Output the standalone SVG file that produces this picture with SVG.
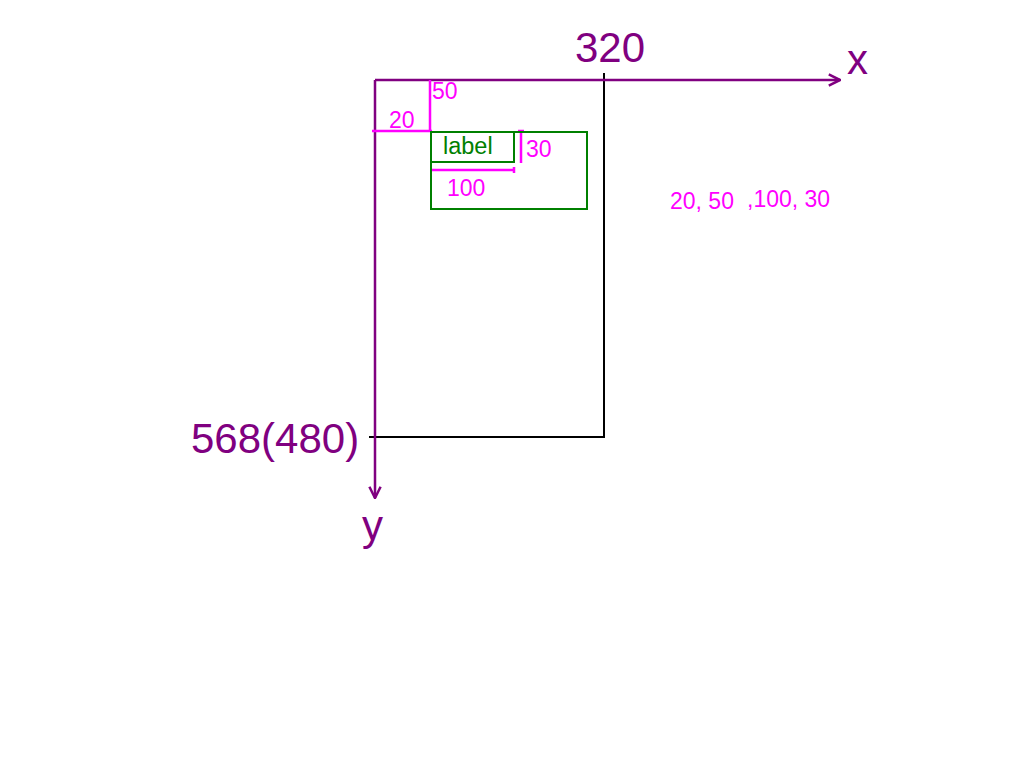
<svg xmlns="http://www.w3.org/2000/svg" width="1024" height="768" viewBox="0 0 1024 768">
<defs>
<style>
.ax{stroke:#800080;stroke-width:2.5;fill:none}
.mg{stroke:#ff00ff;stroke-width:2.5;fill:none}
.gr{stroke:#008000;stroke-width:2;fill:none}
.bk{stroke:#000;stroke-width:2;fill:none}
.big{font-family:"Liberation Sans",Arial,sans-serif;font-size:42px;fill:#800080}
.sm{font-family:"Liberation Sans",Arial,sans-serif;font-size:23px;fill:#ff00ff}
.lb{font-family:"Liberation Sans",Arial,sans-serif;font-size:23.5px;fill:#008000}
</style>
<marker id="arr" viewBox="0 0 10 10" refX="9" refY="5" markerWidth="14" markerHeight="14" markerUnits="userSpaceOnUse" orient="auto">
<path d="M1,1 L9,5 L1,9" fill="none" stroke="#800080" stroke-width="1.8"/>
</marker>
</defs>
<rect width="1024" height="768" fill="#fff"/>
<g id="screen">
<path class="bk" d="M604,73 V437 H369"/>
</g>
<g id="connectors">
<line class="ax" x1="375" y1="80" x2="840" y2="80" marker-end="url(#arr)"/>
<line class="ax" x1="375" y1="80" x2="375" y2="498" marker-end="url(#arr)"/>
<path class="mg" d="M430,80 V131 M372,131 H432"/>
<path class="mg" stroke-width="3" d="M521,131 V163 M518,131 H524"/>
<path class="mg" d="M432,170 H514 M514,167 V173"/>
</g>
<g id="outer-rect"><rect class="gr" x="431" y="132" width="156" height="77"/></g>
<g id="label-rect">
<rect class="gr" x="431" y="132" width="83" height="30"/>
<text class="lb" x="443" y="154">label</text>
</g>
<g id="texts">
<text class="big" x="575" y="62">320</text>
<text class="big" x="847" y="74">x</text>
<text class="big" x="191" y="453">568(480)</text>
<text class="big" x="362" y="540">y</text>
<text class="sm" x="432" y="99">50</text>
<text class="sm" x="389" y="128">20</text>
<text class="sm" x="526" y="157">30</text>
<text class="sm" x="447" y="196">100</text>
<text class="sm" x="670" y="209">20, 50</text>
<text class="sm" x="747" y="207">,100, 30</text>
</g>
</svg>
